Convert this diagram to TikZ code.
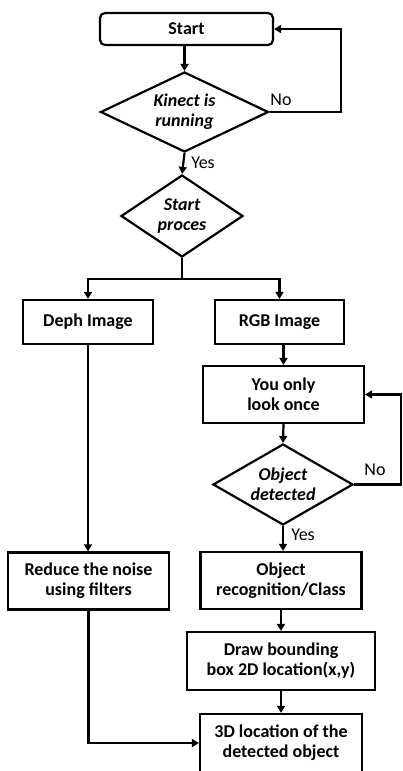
\documentclass[tikz,border=0pt]{standalone}
\usepackage{fontspec}
\setmainfont{Carlito}
\usetikzlibrary{shapes.geometric,arrows.meta}

\begin{document}
\begin{tikzpicture}[x=1pt,y=-1pt,
    line width=2.2pt,
    font=\fontsize{18}{20}\selectfont,
    flow/.style={-{Triangle[length=7pt,width=8pt]}},
    stepbox/.style={rectangle, draw, align=center, font=\fontsize{18}{20}\selectfont\bfseries},
    query/.style={diamond, draw, align=center, inner sep=0pt, aspect=1.5, font=\fontsize{18}{20}\selectfont\bfseries\itshape}]
        \useasboundingbox (0,0) rectangle (402,771);
        \def\xl{88}
        \def\xr{281}

        \node[stepbox, rounded corners=5pt, minimum width=173pt, minimum height=32pt] (start) at (186.5,29) {Start};
        \node[query, minimum width=168pt, minimum height=80pt] (kinect) at (184.5,112) {Kinect is\\running};
        \node[query, minimum width=122pt, minimum height=82pt] (proces) at (182,216) {Start\\proces};

        \node[stepbox, minimum width=130pt, minimum height=44pt] (deph) at (\xl,322) {Deph Image};
        \node[stepbox, minimum width=129pt, minimum height=44pt] (rgb) at (\xr-1.5,322) {RGB Image};
        \node[stepbox, minimum width=161pt, minimum height=57pt] (yolo) at (\xr+2.5,394.5) {You only\\look once};
        \node[query, minimum width=140pt, minimum height=81pt] (detect) at (\xr+2,484.5) {Object\\detected};
        \node[stepbox, minimum width=161pt, minimum height=57pt] (recog) at (\xr,580.5) {Object\\recognition/Class};
        \node[stepbox, minimum width=188pt, minimum height=58pt] (bbox) at (\xr,661) {Draw bounding\\box 2D location(x,y)};
        \node[stepbox, minimum width=162pt, minimum height=58pt] (loc3d) at (\xr,743) {3D location of the\\detected object};
        \node[stepbox, minimum width=161pt, minimum height=57pt] (noise) at (\xl+0.5,581) {Reduce the noise\\using filters};

        % kinect loop
        \draw[flow] (start.south -| kinect.north) -- (kinect.north);
        \draw[flow] (kinect.east) -- ++(71,0) |- (start.east);
        \node (no1) at (281,100) {No};
        \draw[flow] (kinect.south) -- (proces.north);
        \node (yes1) at (203,163) {Yes};

        % split into depth and rgb
        \draw (proces.south) -- ++(0,21) coordinate (split);
        \draw[flow] (split) -| (deph.north);
        \draw[flow] (split) -| (rgb.north);

        % rgb branch
        \draw[flow] (rgb.south -| yolo.north) -- (yolo.north);
        \draw[flow] (yolo.south) -- (detect.north);
        \draw[flow] (detect.east) -- ++(47,0) |- (yolo.east);
        \node (no2) at (375,470) {No};
        \draw[flow] (detect.south) -- (detect.south |- recog.north);
        \node (yes2) at (303,535) {Yes};
        \draw[flow] (recog.south) -- (bbox.north);
        \draw[flow] (bbox.south) -- (loc3d.north);

        % depth branch
        \draw[flow] (deph.south) -- (noise.north -| deph.south);
        \draw[flow] (noise.south) |- (loc3d.west);
\end{tikzpicture}
\end{document}
